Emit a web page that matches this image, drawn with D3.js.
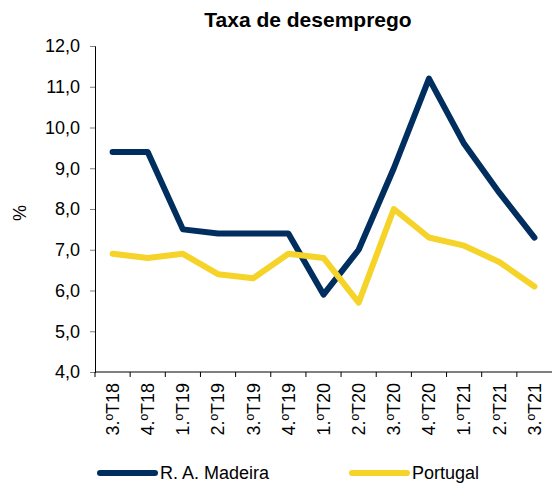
<!DOCTYPE html>
<html>
<head>
<meta charset="utf-8">
<script src="https://cdn.jsdelivr.net/npm/d3@7"></script>
<style>
  body { margin: 0; background: #fff; }
  svg { font-family: "Liberation Sans", Arial, sans-serif; }
</style>
</head>
<body>
<div id="chart"></div>
<script>
const categories = ['3.ºT18', '4.ºT18', '1.ºT19', '2.ºT19', '3.ºT19', '4.ºT19', '1.ºT20',
    '2.ºT20', '3.ºT20', '4.ºT20', '1.ºT21', '2.ºT21', '3.ºT21'];
const madeira = [9.4, 9.4, 7.5, 7.4, 7.4, 7.4, 5.9, 7.0, 9.0, 11.2, 9.6, 8.4, 7.3];
const portugal = [6.9, 6.8, 6.9, 6.4, 6.3, 6.9, 6.8, 5.7, 8.0, 7.3, 7.1, 6.7, 6.1];
const yTicks = [4, 5, 6, 7, 8, 9, 10, 11, 12];
const seriesNames = ['R. A. Madeira', 'Portugal'];
const colors = ['#002f5f', '#f5d328'];

const width = 555, height = 485;
const margin = { top: 46, right: 3, bottom: 113, left: 95 };

const svg = d3.select('#chart')
    .append('svg')
    .attr('width', width)
    .attr('height', height);

const x = d3.scaleBand()
    .domain(categories)
    .range([margin.left, width - margin.right]);
const y = d3.scaleLinear()
    .domain([4, 12])
    .range([height - margin.bottom, margin.top]);

// title
svg.append('text')
    .attr('x', 308)
    .attr('y', 27)
    .attr('text-anchor', 'middle')
    .style('font-size', '21px')
    .style('font-weight', 'bold')
    .text('Taxa de desemprego');

// y axis
const yAxis = svg.append('g')
    .attr('transform', `translate(${margin.left}, 0)`)
    .call(d3.axisLeft(y).tickValues(yTicks).tickSize(5).tickPadding(10)
        .tickFormat(d => d3.format('.1f')(d).replace('.', ',')));
yAxis.selectAll('text').style('font-size', '18px').attr('fill', '#000');
yAxis.select('.domain').attr('stroke', '#000');
yAxis.selectAll('.tick line').attr('stroke', '#808080');

svg.append('text')
    .attr('transform', 'translate(26, 213) rotate(-90)')
    .attr('text-anchor', 'middle')
    .style('font-size', '18px')
    .text('%');

// x axis, ticks on band edges
const xAxis = svg.append('g')
    .attr('transform', `translate(0, ${height - margin.bottom})`);
xAxis.append('line')
    .attr('x1', margin.left).attr('x2', width - margin.right)
    .attr('stroke', '#000');
xAxis.selectAll('.edge')
    .data(categories)
    .enter().append('line')
    .attr('class', 'edge')
    .attr('x1', d => x(d)).attr('x2', d => x(d))
    .attr('y1', 0).attr('y2', 5)
    .attr('stroke', '#000');
xAxis.selectAll('.lbl')
    .data(categories)
    .enter().append('text')
    .attr('class', 'lbl')
    .attr('transform', d => `translate(${x(d) + x.bandwidth() / 2}, 11) rotate(-90)`)
    .attr('text-anchor', 'end')
    .attr('dy', '0.35em')
    .style('font-size', '18px')
    .text(d => d);

// lines
const line = d3.line()
    .x((d, i) => x(categories[i]) + x.bandwidth() / 2)
    .y(d => y(d));

[madeira, portugal].forEach((s, k) => {
    svg.append('path')
        .datum(s)
        .attr('fill', 'none')
        .attr('stroke', colors[k])
        .attr('stroke-width', 6)
        .attr('stroke-linejoin', 'round')
        .attr('stroke-linecap', 'round')
        .attr('d', line);
});

// legend
const legendX = [100, 352];
seriesNames.forEach((name, k) => {
    const g = svg.append('g').attr('transform', `translate(${legendX[k]}, 473)`);
    g.append('line')
        .attr('x1', 0).attr('x2', 55)
        .attr('stroke', colors[k])
        .attr('stroke-width', 6)
        .attr('stroke-linecap', 'round');
    g.append('text')
        .attr('x', 60)
        .attr('y', 6)
        .style('font-size', '18px')
        .text(name);
});
</script>
</body>
</html>
